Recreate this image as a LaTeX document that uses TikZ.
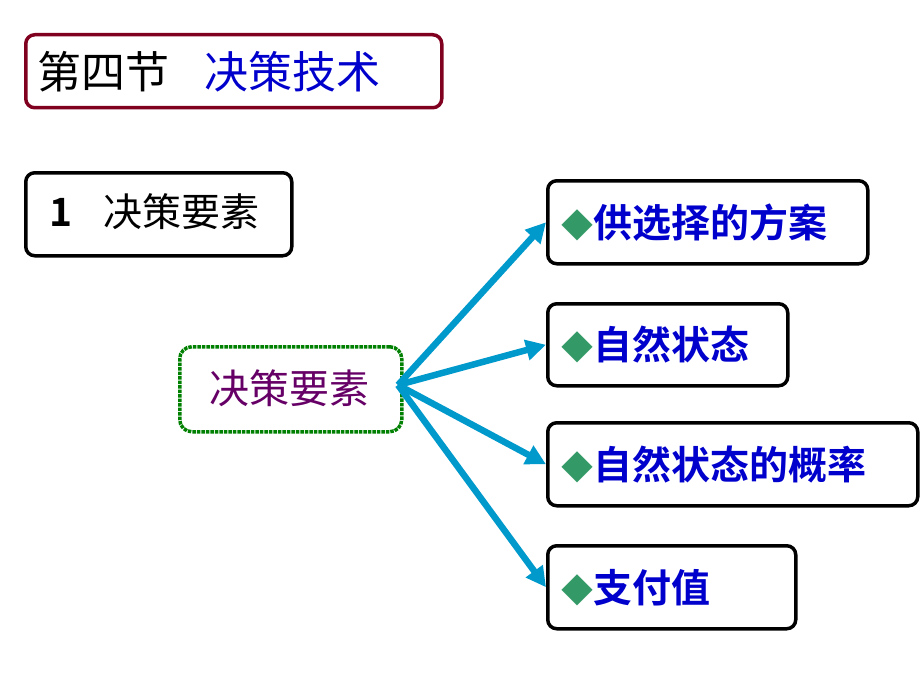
\documentclass[tikz,border=0pt]{standalone}
\usepackage{fontspec}
\setmainfont{Liberation Sans}
\newfontfamily\cjk{Noto Sans CJK SC}[BoldFont={Noto Sans CJK SC Bold}]
\usetikzlibrary{arrows.meta}
\definecolor{titlered}{RGB}{128,0,32}
\definecolor{textblue}{RGB}{0,0,204}
\definecolor{leafgreen}{RGB}{51,153,102}
\definecolor{arrowblue}{RGB}{0,153,204}
\definecolor{purpletext}{RGB}{102,0,102}
\tikzset{box/.style={draw, rounded corners=9pt, line width=3.5pt, anchor=north west, inner sep=0pt},
  link/.style={arrowblue, line width=6.5pt, -{Triangle[length=20pt,width=20pt]}}}
\begin{document}
\begin{tikzpicture}[x=1pt,y=-1pt]
  \useasboundingbox (0,0) rectangle (920,690);
  \node[box, draw=titlered, minimum width=416pt, minimum height=73pt] (title) at (24,33) {};
  \node[anchor=west, font=\cjk\fontsize{44}{44}\selectfont] at (34,72) {第四节\hspace{0.8em}\textcolor{textblue}{决策技术}};
  \node[box, minimum width=266pt, minimum height=83pt] (sect) at (24,171) {};
  \node[anchor=west, font=\cjk\fontsize{39}{39}\selectfont] at (46,212) {{\bfseries 1}\hspace{0.8em}决策要素};
  \node[box, draw=green!50!black, densely dotted, line width=3.5pt, rounded corners=12pt, minimum width=222pt, minimum height=85pt] (core) at (178,345) {};
  \node[text=purpletext, font=\cjk\fontsize{40}{40}\selectfont] at (289,388) {决策要素};
  \node[box, minimum width=320pt, minimum height=83pt] (opt) at (546,179) {};
  \node[box, minimum width=240pt, minimum height=82pt] (state) at (546,302) {};
  \node[box, minimum width=370pt, minimum height=83pt] (prob) at (546,421) {};
  \node[box, minimum width=248pt, minimum height=83pt] (pay) at (546,544) {};
  \foreach \n/\t in {opt/供选择的方案, state/自然状态, prob/自然状态的概率, pay/支付值}
    \node[anchor=west, text=textblue, font=\cjk\bfseries\fontsize{39}{39}\selectfont] at ([xshift=12pt]\n.west) {\textcolor{leafgreen}{\fontsize{32}{32}\selectfont◆}\t};
  \coordinate (hub) at (398,385);
  \foreach \n in {opt, state, prob, pay}
    \draw[link] (hub) -- (\n.west);
\end{tikzpicture}
\end{document}
